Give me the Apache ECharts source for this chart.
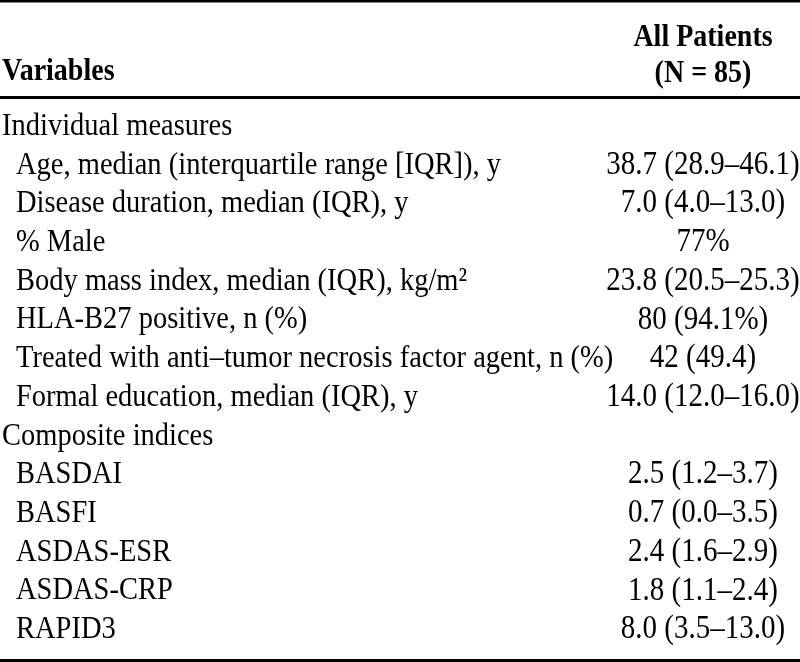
<!DOCTYPE html>
<html>
<head>
<meta charset="utf-8">
<script src="https://cdn.jsdelivr.net/npm/echarts@6/dist/echarts.min.js"></script>
<style>
html,body{margin:0;padding:0;background:#fff;}
#chart{width:800px;height:662px;}
</style>
</head>
<body>
<div id="chart"></div>
<script>
// ---- data ----
const headerVariables = 'Variables';
const headerColumn = ['All Patients', '(N = 85)'];
const rowLabels = [
  'Individual measures',
  'Age, median (interquartile range [IQR]), y',
  'Disease duration, median (IQR), y',
  '% Male',
  'Body mass index, median (IQR), kg/m\u00B2',
  'HLA-B27 positive, n (%)',
  'Treated with anti\u2013tumor necrosis factor agent, n (%)',
  'Formal education, median (IQR), y',
  'Composite indices',
  'BASDAI',
  'BASFI',
  'ASDAS-ESR',
  'ASDAS-CRP',
  'RAPID3'
];
const rowValues = [
  '',
  '38.7 (28.9\u201346.1)',
  '7.0 (4.0\u201313.0)',
  '77%',
  '23.8 (20.5\u201325.3)',
  '80 (94.1%)',
  '42 (49.4)',
  '14.0 (12.0\u201316.0)',
  '',
  '2.5 (1.2\u20133.7)',
  '0.7 (0.0\u20133.5)',
  '2.4 (1.6\u20132.9)',
  '1.8 (1.1\u20132.4)',
  '8.0 (3.5\u201313.0)'
];
const sectionHeaders = ['Individual measures', 'Composite indices'];

// ---- chart ----
const FONT_L = '28.5px "Liberation Serif"';
const FONT_V = '29px "Liberation Serif"';
const BOLD = 'bold 28px "Liberation Serif"';
const SY = 1.13;
const chart = echarts.init(document.getElementById('chart'), null, {renderer: 'canvas'});

const cellData = [];
rowLabels.forEach((l, i) => {
  cellData.push([0, i, l, sectionHeaders.includes(l) ? 0 : 14, 'left']);
  if (rowValues[i]) cellData.push([1, i, rowValues[i], 0, 'center']);
});

chart.setOption({
  animation: false,
  backgroundColor: '#fff',
  grid: { left: 2, right: 97, top: 107, height: 542 },
  xAxis: { type: 'value', min: 0, max: 1, show: false },
  yAxis: { type: 'category', data: rowLabels, inverse: true, show: false, boundaryGap: true },
  series: [{
    type: 'custom',
    data: cellData,
    encode: { x: 0, y: 1 },
    renderItem: function (params, api) {
      const d = cellData[params.dataIndex];
      const p = api.coord([d[0], d[1]]);
      return {
        type: 'text',
        x: p[0] + d[3],
        y: p[1],
        scaleY: SY,
        style: { text: d[2], font: d[0] === 0 ? FONT_L : FONT_V, fill: '#000', align: d[4], verticalAlign: 'middle' }
      };
    }
  }],
  graphic: [
    { type: 'rect', shape: { x: 0, y: 0, width: 800, height: 2.5 }, style: { fill: '#000' } },
    { type: 'rect', shape: { x: 0, y: 96, width: 800, height: 3 }, style: { fill: '#000' } },
    { type: 'rect', shape: { x: 0, y: 659, width: 800, height: 3 }, style: { fill: '#000' } },
    { type: 'text', x: 2, y: 72, scaleY: 1.1, style: { text: headerVariables, font: BOLD, fill: '#000', align: 'left', verticalAlign: 'middle' } },
    { type: 'text', x: 703, y: 38, scaleY: 1.1, style: { text: headerColumn[0], font: BOLD, fill: '#000', align: 'center', verticalAlign: 'middle' } },
    { type: 'text', x: 703, y: 74, scaleY: 1.1, style: { text: headerColumn[1], font: BOLD, fill: '#000', align: 'center', verticalAlign: 'middle' } }
  ]
});
</script>
</body>
</html>
